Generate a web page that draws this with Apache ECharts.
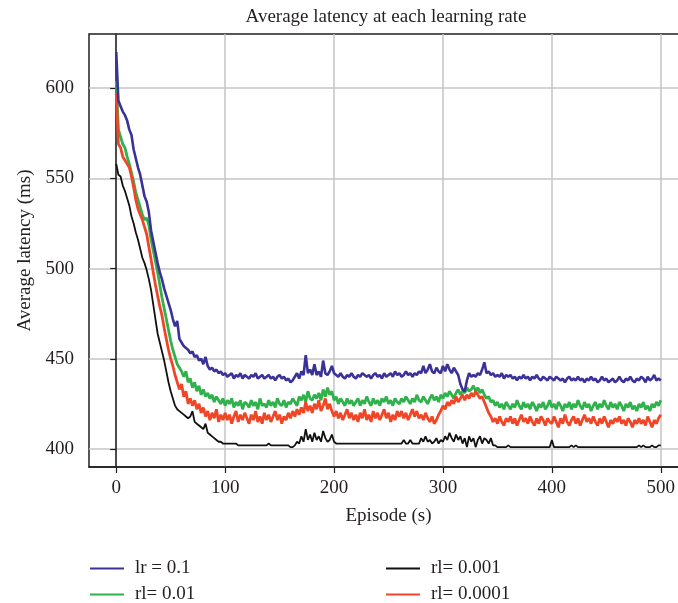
<!DOCTYPE html>
<html>
<head>
<meta charset="utf-8">
<title>Average latency at each learning rate</title>
<script src="https://cdn.jsdelivr.net/npm/echarts@6/dist/echarts.min.js"></script>
<style>
    html, body { margin: 0; padding: 0; background: #fff; overflow: hidden; }
    #chart { width: 700px; height: 603px; }
</style>
</head>
<body>
<div id="chart"></div>
<script>
// Values, one point every 2 episodes (0..500)
const EPISODE_STEP = 2;
const X_TICKS = [0, 100, 200, 300, 400, 500];
const Y_TICKS = [400, 450, 500, 550, 600];
const SERIES_NAMES = ['lr = 0.1', 'rl= 0.01', 'rl= 0.001', 'rl= 0.0001'];

const lr01 = [
    620, 593, 590, 587, 585, 582, 577, 574, 566, 561,
    556, 552, 546, 540, 537, 531, 521, 515, 509, 503,
    498, 494, 489, 485, 481, 477, 472, 468, 471, 461,
    459, 457, 456, 455, 453, 454, 451, 452, 449, 450,
    447, 451, 446, 444, 445, 443, 444, 442, 443, 441,
    442, 440, 441, 442, 439, 441, 440, 442, 439, 441,
    440, 439, 441, 440, 442, 439, 440, 441, 439, 440,
    441, 439, 440, 438, 440, 441, 439, 440, 438, 439,
    437, 438, 440, 442, 439, 443, 441, 452, 442, 444,
    441, 447, 441, 443, 440, 449, 442, 441, 443, 446,
    442, 441, 440, 442, 440, 439, 441, 440, 442, 440,
    439, 441, 440, 442, 441, 440, 441, 439, 441, 442,
    440, 441, 439, 442, 440, 441, 442, 440, 443, 441,
    442, 440, 441, 443, 441, 442, 440, 442, 441, 443,
    442, 446, 442, 444, 447, 443, 442, 445, 443, 442,
    446, 443, 447, 444, 442, 445, 443, 441, 436, 433,
    432, 438, 442, 440, 441, 440, 442, 441, 444, 448,
    442, 443, 441, 442, 440, 441, 440, 442, 439, 441,
    440, 441, 439, 440, 438, 440, 439, 441, 439, 440,
    438, 440, 439, 441, 439, 438, 440, 439, 438, 440,
    439, 438, 440, 439, 438, 439, 437, 439, 440, 438,
    439, 438, 440, 438, 439, 437, 439, 438, 440, 438,
    439, 437, 438, 440, 438, 439, 437, 438, 439, 437,
    438, 440, 438, 437, 439, 438, 440, 438, 437, 439,
    438, 440, 439, 437, 440, 438, 439, 441, 438, 439,
    438
];

const rl001 = [
    604, 577, 573, 569, 567, 562, 558, 553, 548, 542,
    538, 534, 530, 527, 528, 524, 516, 510, 504, 498,
    491, 484, 478, 472, 466, 460, 455, 451, 447, 445,
    443, 440, 443, 437, 439, 434, 437, 432, 435, 430,
    433, 429, 431, 428, 430, 426, 429, 427, 425, 428,
    424, 427, 425, 428, 423, 426, 424, 427, 422, 426,
    425, 423, 427, 424, 426, 422, 428, 424, 425, 423,
    427, 424, 426, 423, 428, 425, 424, 427, 423, 426,
    425, 428, 426, 424, 429, 427, 430, 426, 432, 428,
    427, 430, 428, 431, 427, 433, 429, 434, 430, 432,
    427, 429, 425, 428, 426, 424, 428, 425, 427, 424,
    426, 428, 424, 427, 425, 429, 426, 424, 428, 425,
    427, 424, 428, 426, 429, 425, 427, 424, 428, 426,
    425, 428, 426, 429, 427, 425, 428, 426, 430, 427,
    426, 429, 427, 425, 428, 430, 427, 429, 426, 430,
    428, 431, 429, 432, 430, 428, 431, 433, 430, 432,
    431, 434, 432, 433, 435, 432, 434, 431, 433, 430,
    428, 429, 426, 427, 424, 426, 423, 425, 422, 426,
    424, 422, 425, 423, 427, 424, 422, 426, 423, 425,
    422, 426, 424, 421, 425, 423, 426, 422, 424, 427,
    423, 425, 422, 426, 424, 421, 425, 423, 426, 422,
    425, 423, 427, 424, 422, 426, 423, 425, 421, 424,
    426, 422, 425, 423, 427, 424, 422, 426, 423, 425,
    422, 426, 424, 421, 425, 423, 426, 422, 424, 421,
    425, 423, 426, 422, 424, 421, 425, 423, 426, 424,
    427
];

const rl0001 = [
    558, 552, 551, 546, 543, 539, 535, 529, 525, 520,
    516, 511, 506, 503, 499, 494, 488, 480, 472, 464,
    459, 454, 449, 443, 437, 432, 428, 424, 422, 421,
    420, 419, 418, 417, 418, 421, 415, 414, 413, 412,
    411, 414, 409, 408, 407, 406, 405, 404, 404, 403,
    403, 403, 403, 403, 403, 403, 402, 402, 402, 402,
    402, 402, 402, 402, 402, 402, 402, 402, 402, 402,
    403, 402, 402, 402, 402, 402, 402, 402, 402, 402,
    401, 401, 402, 404, 403, 407, 404, 411, 405, 408,
    404, 409, 405, 407, 404, 410, 406, 404, 405, 408,
    404, 403, 403, 403, 403, 403, 403, 403, 403, 403,
    403, 403, 403, 403, 403, 403, 403, 403, 403, 403,
    403, 403, 403, 403, 403, 403, 403, 403, 403, 403,
    403, 403, 405, 403, 403, 405, 403, 403, 403, 403,
    406, 404, 407, 404, 405, 403, 404, 406, 403, 405,
    404, 407, 405, 409, 406, 404, 408, 405, 407, 403,
    406, 401, 407, 404, 406, 401, 405, 407, 403, 406,
    405, 403, 406, 402, 402, 401, 401, 401, 401, 401,
    402, 401, 401, 401, 401, 401, 401, 401, 401, 401,
    401, 401, 401, 401, 401, 401, 401, 401, 401, 401,
    405, 401, 401, 401, 401, 401, 401, 401, 401, 402,
    401, 402, 401, 401, 401, 401, 401, 401, 401, 401,
    401, 401, 401, 401, 401, 401, 401, 401, 401, 401,
    401, 401, 401, 401, 401, 401, 401, 401, 401, 401,
    402, 401, 402, 401, 401, 401, 402, 401, 401, 402,
    402
];

const rl00001 = [
    597, 569, 567, 562, 560, 558, 556, 551, 545, 538,
    533, 530, 527, 523, 519, 512, 505, 498, 491, 485,
    479, 474, 467, 461, 455, 450, 446, 441, 437, 433,
    436, 429, 432, 425, 428, 424, 427, 422, 425, 420,
    423, 418, 421, 416, 420, 417, 422, 415, 419, 416,
    420, 416, 419, 414, 418, 421, 415, 419, 416, 420,
    417, 414, 419, 416, 421, 415, 418, 414, 420, 416,
    419, 415, 418, 421, 416, 419, 414, 418, 416, 420,
    417, 421, 418, 422, 419, 423, 420, 426, 421, 424,
    420, 425, 422, 427, 421, 424, 428, 422, 425, 421,
    418, 421, 417, 420, 416, 419, 422, 417, 420, 416,
    419, 415, 420, 417, 422, 416, 419, 415, 421, 417,
    420, 416, 419, 422, 417, 420, 415, 419, 416, 421,
    418, 421, 417, 420, 416, 419, 422, 418, 421, 417,
    419, 416, 420, 417, 415, 418, 414, 416, 419, 421,
    424, 422, 426, 424, 427, 425, 429, 426, 428, 430,
    427, 430, 428, 431, 429, 432, 430, 428, 429, 426,
    423, 420, 418, 415, 417, 414, 418, 415, 413, 417,
    415, 418, 414, 417, 413, 416, 419, 415, 417, 414,
    418, 415, 413, 417, 414, 418, 416, 413, 417, 415,
    414, 418, 415, 412, 417, 414, 419, 415, 413, 416,
    418, 414, 417, 413, 416, 419, 415, 417, 414, 418,
    415, 413, 417, 414, 418, 415, 412, 416, 414, 417,
    415, 418, 414, 416, 413, 417, 415, 412, 416, 414,
    417, 414, 416, 413, 418, 415, 412, 416, 414, 417,
    419
];

const FONT = '"Liberation Serif", "DejaVu Serif", serif';
const TEXT_COLOR = '#231f20';
const FONT_SIZE = 19;

// pair each value with its episode
function toPoints(values) {
    return values.map((v, i) => [i * EPISODE_STEP, v]);
}

function lineSeries(name, values, color, width, z) {
    return {
        name: name,
        type: 'line',
        data: toPoints(values),
        symbol: 'none',
        z: z,
        lineStyle: { color: color, width: width },
        itemStyle: { color: color }
    };
}

// one legend box per entry, laid out as two columns
function legendEntry(name, left, top) {
    return {
        data: [name],
        left: left,
        top: top,
        icon: 'rect',
        itemWidth: 34,
        itemHeight: 2,
        textStyle: { fontFamily: FONT, fontSize: FONT_SIZE, color: TEXT_COLOR, padding: [0, 0, 0, 6] }
    };
}

const chart = echarts.init(document.getElementById('chart'));

chart.setOption({
    animation: false,
    backgroundColor: '#fff',
    title: {
        text: 'Average latency at each learning rate',
        left: 381,
        top: 3,
        textAlign: 'center',
        textStyle: { fontFamily: FONT, fontSize: FONT_SIZE, fontWeight: 'normal', color: TEXT_COLOR }
    },
    grid: {
        left: 89, right: 12, top: 34, bottom: 136,
        show: true,
        borderColor: '#1f1f1f',
        borderWidth: 1.5
    },
    legend: [
        legendEntry(SERIES_NAMES[0], 85, 554),
        legendEntry(SERIES_NAMES[1], 85, 580),
        legendEntry(SERIES_NAMES[2], 381, 554),
        legendEntry(SERIES_NAMES[3], 381, 580)
    ],
    xAxis: {
        type: 'value',
        min: -25,
        max: 525,
        name: 'Episode (s)',
        nameLocation: 'middle',
        nameGap: 40,
        nameTextStyle: { fontFamily: FONT, fontSize: FONT_SIZE, color: TEXT_COLOR },
        axisLine: { show: true, lineStyle: { color: '#1f1f1f', width: 1.5 } },
        axisTick: { show: true, customValues: X_TICKS, length: 6, lineStyle: { color: '#1f1f1f', width: 1.2 } },
        axisLabel: { customValues: X_TICKS, margin: 12, fontFamily: FONT, fontSize: FONT_SIZE, color: TEXT_COLOR },
        splitLine: { show: true, lineStyle: { color: '#c4c4c4', width: 1.5 } }
    },
    yAxis: {
        type: 'value',
        min: 390,
        max: 630,
        name: 'Average latency (ms)',
        nameLocation: 'middle',
        nameGap: 54,
        nameTextStyle: { fontFamily: FONT, fontSize: FONT_SIZE, color: TEXT_COLOR },
        axisLine: { show: true, lineStyle: { color: '#1f1f1f', width: 1.5 } },
        axisTick: { show: true, customValues: Y_TICKS, length: 6, lineStyle: { color: '#1f1f1f', width: 1.2 } },
        axisLabel: { customValues: Y_TICKS, margin: 15, fontFamily: FONT, fontSize: FONT_SIZE, color: TEXT_COLOR },
        splitLine: { show: true, lineStyle: { color: '#c4c4c4', width: 1.5 } }
    },
    series: [
        lineSeries(SERIES_NAMES[1], rl001, '#2fb14b', 2.8, 2),
        lineSeries(SERIES_NAMES[3], rl00001, '#f04628', 2.8, 3),
        lineSeries(SERIES_NAMES[2], rl0001, '#111111', 1.8, 4),
        lineSeries(SERIES_NAMES[0], lr01, '#3a3296', 2.6, 5)
    ]
});
</script>
</body>
</html>
